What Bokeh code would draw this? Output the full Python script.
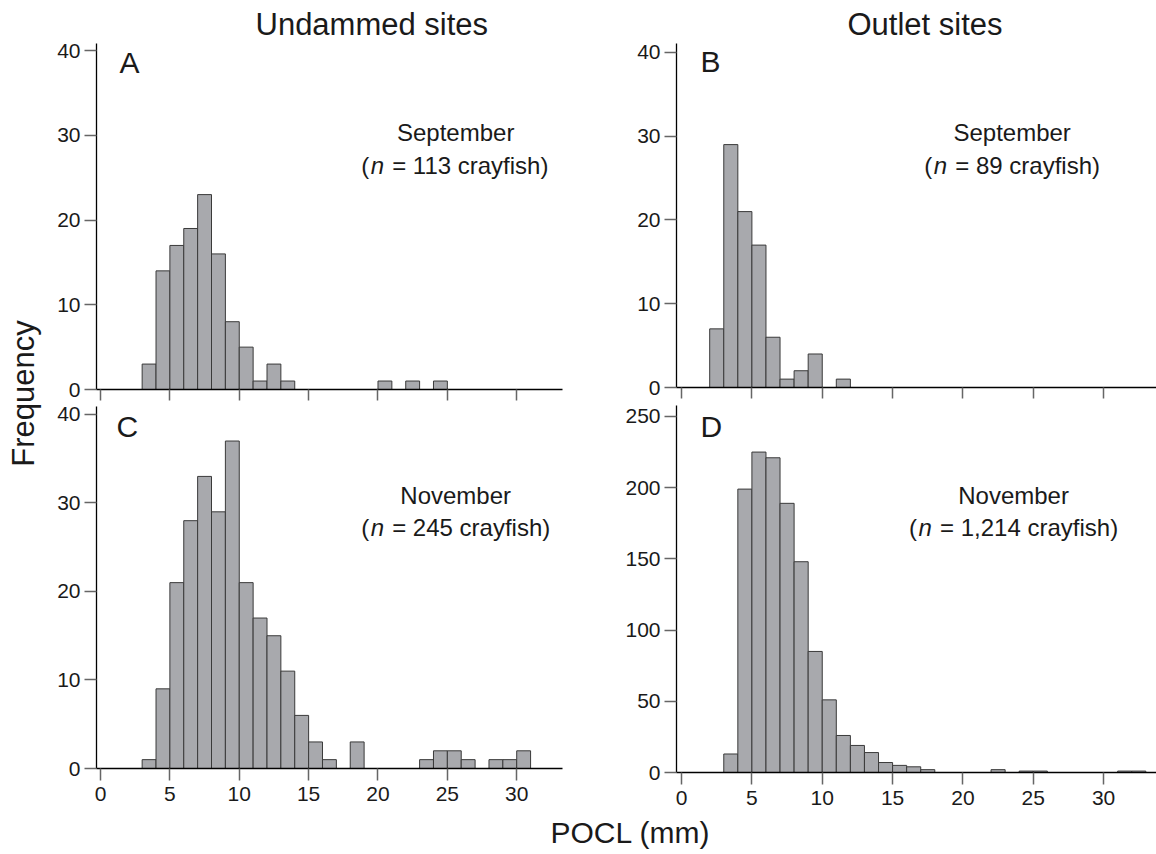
import math
from bokeh.plotting import figure
from bokeh.layouts import column, row
from bokeh.models import Range1d, FixedTicker, Label, Title
from bokeh.embed import file_html
from bokeh.resources import INLINE

# ---------------- data ----------------
bins_a = [3, 4, 5, 6, 7, 8, 9, 10, 11, 12, 13, 20, 22, 24]
counts_a = [3, 14, 17, 19, 23, 16, 8, 5, 1, 3, 1, 1, 1, 1]

bins_b = [2, 3, 4, 5, 6, 7, 8, 9, 11]
counts_b = [7, 29, 21, 17, 6, 1, 2, 4, 1]

bins_c = [3, 4, 5, 6, 7, 8, 9, 10, 11, 12, 13, 14, 15, 16, 18,
          23, 24, 25, 26, 28, 29, 30]
counts_c = [1, 9, 21, 28, 33, 29, 37, 21, 17, 15, 11, 6, 3, 1, 3,
            1, 2, 2, 1, 1, 1, 2]

bins_d = [3, 4, 5, 6, 7, 8, 9, 10, 11, 12, 13, 14, 15, 16, 17,
          22, 24, 25, 31, 32]
counts_d = [13, 199, 225, 221, 189, 148, 85, 51, 26, 19, 14, 7, 5, 4, 2,
            2, 1, 1, 1, 1]

bin_width = 1
x_ticks = [0, 5, 10, 15, 20, 25, 30]
y_ticks_small = [0, 10, 20, 30, 40]
y_ticks_d = [0, 50, 100, 150, 200, 250]

col_titles = ["Undammed sites", "Outlet sites"]
panel_letters = ["A", "B", "C", "D"]
months = ["September", "September", "November", "November"]
n_values = ["113", "89", "245", "1,214"]
y_title = "Frequency"
x_title = "POCL (mm)"

# ---------------- style ----------------
FONT = "Liberation Sans"
TXT = "#1a1a1a"
BAR_FILL = "#a8a9ad"
BAR_LINE = "#3a3a3a"
TICK_COL = "#666666"
NBSP = "\u00a0"

# Arial / Liberation Sans advance widths (em)
W = {"(": .333, ")": .333, " ": .278, NBSP: .278, "=": .584, ",": .278, "n": .556,
     "c": .5, "r": .333, "a": .556, "y": .5, "f": .278, "i": .222,
     "s": .5, "h": .556}
for dch in "0123456789":
    W[dch] = .556


def text_w(s, size):
    return sum(W.get(ch, .55) for ch in s) * size


def make_panel(bins, counts, xr, yr, yticks, w, h, mb, show_xlabels,
               letter, letter_pos, month, nval, ann_pos, title=None, title_offset=0):
    p = figure(width=w, height=h, x_range=Range1d(*xr), y_range=Range1d(*yr),
               output_backend="svg", toolbar_location=None,
               min_border_left=mb[0], min_border_right=mb[1],
               min_border_top=mb[2], min_border_bottom=mb[3])
    p.outline_line_color = None
    p.xgrid.visible = False
    p.ygrid.visible = False
    p.background_fill_color = "white"
    p.border_fill_color = "white"

    if title is not None:
        p.title = Title(text=title, align="left", offset=title_offset,
                        standoff=4, text_font=FONT, text_font_size="31px",
                        text_font_style="normal", text_color=TXT)

    p.quad(left=bins, right=[b + bin_width for b in bins], bottom=0, top=counts,
           fill_color=BAR_FILL, line_color=BAR_LINE, line_width=1)

    for ax in (p.xaxis[0], p.yaxis[0]):
        ax.axis_line_color = "black"
        ax.axis_line_width = 1.3
        ax.major_tick_line_color = TICK_COL
        ax.major_tick_line_width = 1.5
        ax.major_tick_in = 0
        ax.major_tick_out = 12
        ax.minor_tick_line_color = None
        ax.major_label_text_font = FONT
        ax.major_label_text_font_size = "21px"
        ax.major_label_text_color = TXT
    p.xaxis.ticker = FixedTicker(ticks=x_ticks)
    p.yaxis.ticker = FixedTicker(ticks=yticks)
    p.yaxis.major_label_standoff = 4
    p.xaxis.major_label_standoff = 6
    if not show_xlabels:
        p.xaxis.major_label_overrides = {t: "" for t in x_ticks}
        p.xaxis.major_label_text_font_size = "1px"
        p.xaxis.major_label_standoff = 0
        p.xaxis.major_tick_out = 11

    p.add_layout(Label(x=letter_pos[0], y=letter_pos[1], text=letter,
                       text_font=FONT, text_font_size="30px",
                       text_color=TXT, text_baseline="middle"))

    cx, y1, y2 = ann_pos
    size = 24
    p.add_layout(Label(x=cx, y=y1, text=month, text_align="center",
                       text_font=FONT, text_font_size=f"{size}px",
                       text_color=TXT, text_baseline="middle"))
    parts = [("(", "normal"), ("n", "italic"),
             (NBSP + "=" + NBSP + nval + NBSP + "crayfish)", "normal")]
    gap = 1.5
    total = sum(text_w(t, size) for t, _ in parts) + 2 * gap
    off = -total / 2
    for t, style in parts:
        p.add_layout(Label(x=cx, y=y2, x_offset=off, text=t, text_align="left",
                           text_font=FONT, text_font_size=f"{size}px",
                           text_font_style=style, text_color=TXT,
                           text_baseline="middle"))
        off += text_w(t, size) + gap
    return p


pA = make_panel(bins_a, counts_a, (-0.29, 33.3), (0, 40.83), y_ticks_small,
                555, 402, (51, 38, 43, 13), False,
                panel_letters[0], (1.37, 38.64), months[0], n_values[0],
                (25.6, 30.37, 26.48), col_titles[0], 159)
pC = make_panel(bins_c, counts_c, (-0.29, 33.3), (0, 40.9), y_ticks_small,
                555, 412, (51, 38, 4, 46), True,
                panel_letters[2], (1.15, 38.59), months[2], n_values[2],
                (25.6, 30.8, 27.2))
pB = make_panel(bins_b, counts_b, (-0.36, 33.76), (0, 41.07), y_ticks_small,
                556, 400, (76, 0, 43, 13), False,
                panel_letters[1], (1.35, 38.87), months[1], n_values[1],
                (23.5, 30.5, 26.56), col_titles[1], 171)
pD = make_panel(bins_d, counts_d, (-0.36, 33.76), (0, 257.7), y_ticks_d,
                556, 414, (76, 0, 5, 42), True,
                panel_letters[3], (1.35, 243.3), months[3], n_values[3],
                (23.6, 194.8, 172.3))


def text_fig(w, h):
    f = figure(width=w, height=h, x_range=Range1d(0, w), y_range=Range1d(0, h),
               output_backend="svg", toolbar_location=None,
               min_border=0)
    f.axis.visible = False
    f.grid.visible = False
    f.outline_line_color = None
    return f


freq = text_fig(45, 814)
freq.add_layout(Label(x=23, y=421, text=y_title, text_align="center",
                      angle=math.pi / 2, text_font=FONT, text_font_size="31px",
                      text_color=TXT, text_baseline="middle"))

footer = text_fig(1156, 40)
footer.add_layout(Label(x=630, y=22.5, text=x_title, text_align="center",
                        text_font=FONT, text_font_size="30px", text_color=TXT,
                        text_baseline="middle"))

layout = column(row(freq, column(pA, pC), column(pB, pD)), footer)

open("out.html", "w").write(file_html(layout, INLINE))
